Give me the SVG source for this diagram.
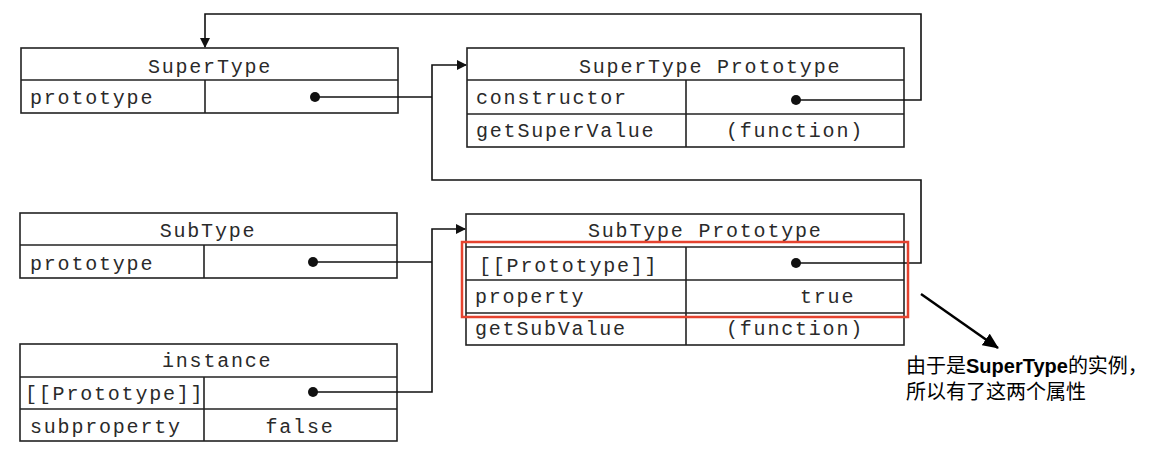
<svg xmlns="http://www.w3.org/2000/svg" width="1164" height="456" viewBox="0 0 1164 456">
<style>
.box{fill:#fff;stroke:#222;stroke-width:1.6}
.ln{stroke:#222;stroke-width:1.6;fill:none}
.t{font-family:"Liberation Mono","DejaVu Sans Mono",monospace;font-size:20px;letter-spacing:1.8px;fill:#2a2a2a}
.c{text-anchor:middle}
.dot{fill:#111}
.con{stroke:#111;stroke-width:1.6;fill:none}
.note{font-family:"Liberation Sans","Noto Sans CJK SC",sans-serif;font-size:20px;fill:#000}
</style>
<defs>
<marker id="ah" markerWidth="10" markerHeight="10" refX="9" refY="5" orient="auto" markerUnits="userSpaceOnUse">
<path d="M0,0 L10,5 L0,10 Z" fill="#111"/>
</marker>
<marker id="ah2" markerWidth="16" markerHeight="14" refX="15" refY="7" orient="auto" markerUnits="userSpaceOnUse">
<path d="M0,0 L16,7 L0,14 Z" fill="#000"/>
</marker>
</defs>

<g id="supertype">
<rect class="box" x="21" y="48" width="377" height="65"/>
<line class="ln" x1="21" y1="80" x2="398" y2="80"/>
<line class="ln" x1="205" y1="80" x2="205" y2="113"/>
<text class="t c" x="210" y="73">SuperType</text>
<text class="t" x="30" y="104">prototype</text>
</g>

<g id="supertype-prototype">
<rect class="box" x="467" y="48" width="437" height="99"/>
<line class="ln" x1="467" y1="80" x2="904" y2="80"/>
<line class="ln" x1="467" y1="114" x2="904" y2="114"/>
<line class="ln" x1="686" y1="80" x2="686" y2="147"/>
<text class="t" x="579" y="73">SuperType Prototype</text>
<text class="t" x="476" y="104">constructor</text>
<text class="t" x="476" y="137">getSuperValue</text>
<text class="t c" x="795" y="137">(function)</text>
</g>

<g id="subtype">
<rect class="box" x="20" y="213" width="377" height="65"/>
<line class="ln" x1="20" y1="245" x2="397" y2="245"/>
<line class="ln" x1="204" y1="245" x2="204" y2="278"/>
<text class="t c" x="208" y="237">SubType</text>
<text class="t" x="30" y="270">prototype</text>
</g>

<g id="instance">
<rect class="box" x="20" y="344" width="377" height="97"/>
<line class="ln" x1="20" y1="377" x2="397" y2="377"/>
<line class="ln" x1="20" y1="409" x2="397" y2="409"/>
<line class="ln" x1="204" y1="377" x2="204" y2="441"/>
<text class="t" x="162" y="367">instance</text>
<text class="t" x="25" y="400">[[Prototype]]</text>
<text class="t" x="30" y="433">subproperty</text>
<text class="t c" x="300" y="433">false</text>
</g>

<g id="subtype-prototype">
<rect class="box" x="466" y="214" width="438" height="131"/>
<line class="ln" x1="466" y1="247" x2="904" y2="247"/>
<line class="ln" x1="466" y1="280" x2="904" y2="280"/>
<line class="ln" x1="466" y1="313" x2="904" y2="313"/>
<line class="ln" x1="686" y1="247" x2="686" y2="345"/>
<text class="t" x="588" y="237">SubType Prototype</text>
<text class="t" x="479" y="272">[[Prototype]]</text>
<text class="t" x="475" y="303">property</text>
<text class="t" x="800" y="303">true</text>
<text class="t" x="475" y="335">getSubValue</text>
<text class="t c" x="795" y="335">(function)</text>
</g>

<g id="connectors">
<path class="con" d="M796,100 H921 V14 H205 V47" marker-end="url(#ah)"/>
<path class="con" d="M315,97 H432"/>
<path class="con" d="M796,263 H921 V180 H432 V65 H466" marker-end="url(#ah)"/>
<path class="con" d="M313,262 H432"/>
<path class="con" d="M313,392 H432 V229 H465" marker-end="url(#ah)"/>
<circle class="dot" cx="315" cy="97" r="5"/>
<circle class="dot" cx="796" cy="100" r="5"/>
<circle class="dot" cx="313" cy="262" r="5"/>
<circle class="dot" cx="313" cy="392" r="5"/>
<circle class="dot" cx="796" cy="263" r="5"/>
<line x1="921" y1="294" x2="998" y2="348" stroke="#000" stroke-width="2.5" marker-end="url(#ah2)"/>
</g>

<g id="highlight">
<rect x="462" y="242" width="446" height="75" fill="none" stroke="#e5432f" stroke-width="2.5"/>
</g>

<g id="note">
<text class="note" x="906" y="373">由于是<tspan font-weight="bold">SuperType</tspan>的实例，</text>
<text class="note" x="906" y="399">所以有了这两个属性</text>
</g>
</svg>
